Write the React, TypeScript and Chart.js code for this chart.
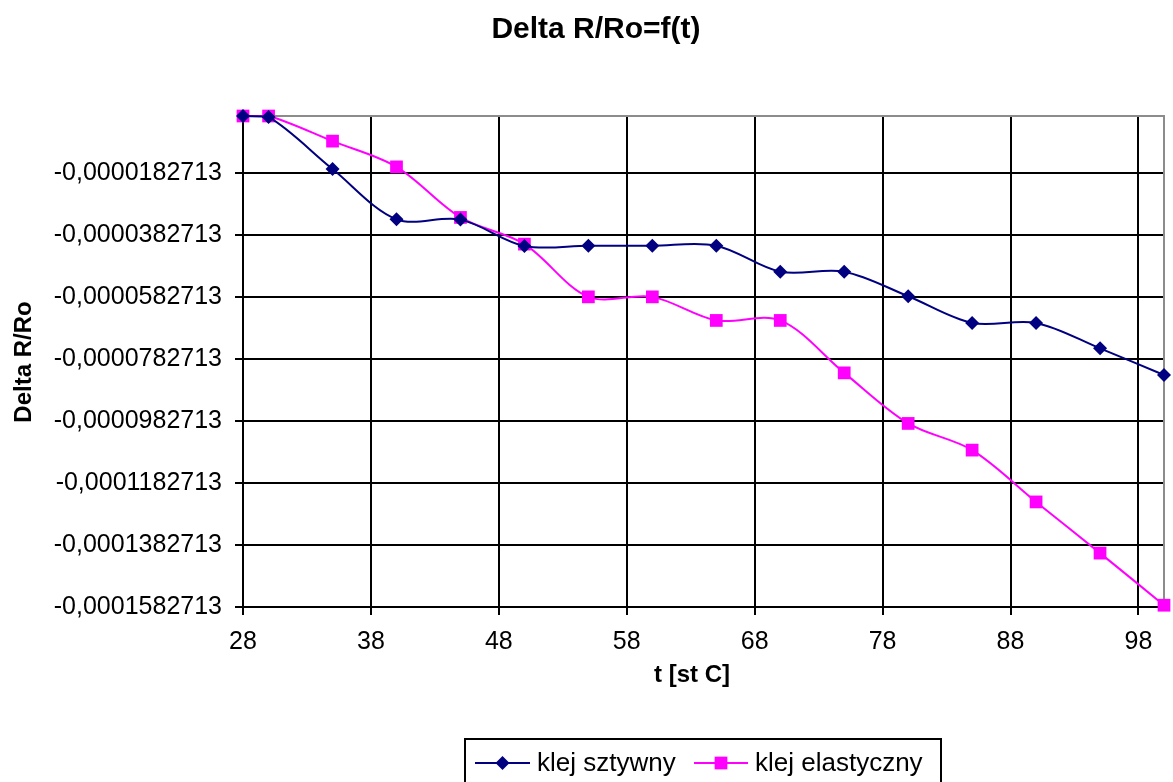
import React, { useEffect, useRef } from 'react';
import { Chart, registerables } from 'chart.js';

Chart.register(...registerables);

const temps = [28, 30, 35, 40, 45, 50, 55, 60, 65, 70, 75, 80, 85, 90, 95, 100];
const sztywny = [
  0, -0.0000003, -0.0000171, -0.0000333, -0.0000334, -0.0000419, -0.0000418, -0.0000418,
  -0.0000418, -0.0000502, -0.0000502, -0.0000581, -0.0000667, -0.0000667, -0.0000749, -0.0000835,
];
const elastyczny = [
  0, 0, -0.0000081, -0.0000164, -0.0000327, -0.0000413, -0.0000583, -0.0000583,
  -0.0000659, -0.0000659, -0.0000828, -0.0000991, -0.0001077, -0.0001244, -0.0001409, -0.0001577,
];
const xTicks = [28, 38, 48, 58, 68, 78, 88, 98];
const yTicks = [
  -0.0001582713, -0.0001382713, -0.0001182713, -0.0000982713,
  -0.0000782713, -0.0000582713, -0.0000382713, -0.0000182713,
];
const seriesNames = ['klej sztywny', 'klej elastyczny'];
const titleText = 'Delta R/Ro=f(t)';
const xTitle = 't [st C]';
const yTitle = 'Delta R/Ro';

const FONT = '"Liberation Sans", Arial, sans-serif';
const NAVY = '#000080';
const MAGENTA = '#FF00FF';

const decorPlugin = {
  id: 'decor',
  beforeDatasetsDraw(chart: any) {
    const ctx = chart.ctx;
    const a = chart.chartArea;
    ctx.save();
    ctx.strokeStyle = '#8c8c8c';
    ctx.lineWidth = 2;
    ctx.beginPath();
    ctx.moveTo(a.left, a.top);
    ctx.lineTo(a.right, a.top);
    ctx.lineTo(a.right, a.bottom);
    ctx.stroke();
    ctx.restore();
  },
  afterDraw(chart: any) {
    const ctx = chart.ctx;
    ctx.save();
    ctx.fillStyle = '#000';
    ctx.textAlign = 'center';
    ctx.textBaseline = 'alphabetic';
    ctx.font = `bold 30px ${FONT}`;
    ctx.fillText(titleText, 596, 38);
    ctx.font = `bold 24px ${FONT}`;
    ctx.fillText(xTitle, 692, 682);
    ctx.translate(31, 362);
    ctx.rotate(-Math.PI / 2);
    ctx.fillText(yTitle, 0, 0);
    ctx.restore();

    // legend
    ctx.save();
    ctx.strokeStyle = '#000';
    ctx.lineWidth = 2;
    ctx.strokeRect(465, 739, 476, 60);
    const ly = 763;
    const items = [
      { x0: 475, x1: 530, color: NAVY, style: 'rectRot', r: 7, tx: 537, label: seriesNames[0] },
      { x0: 694, x1: 748, color: MAGENTA, style: 'rect', r: 9, tx: 755, label: seriesNames[1] },
    ];
    ctx.font = `26px ${FONT}`;
    ctx.textAlign = 'left';
    ctx.textBaseline = 'middle';
    for (const it of items) {
      ctx.strokeStyle = it.color;
      ctx.lineWidth = 2;
      ctx.beginPath();
      ctx.moveTo(it.x0, ly);
      ctx.lineTo(it.x1, ly);
      ctx.stroke();
      ctx.fillStyle = it.color;
      ctx.beginPath();
      const cx = (it.x0 + it.x1) / 2;
      if (it.style === 'rect') {
        const s = it.r * Math.SQRT1_2;
        ctx.rect(cx - s, ly - s, 2 * s, 2 * s);
      } else {
        ctx.moveTo(cx, ly - it.r);
        ctx.lineTo(cx + it.r, ly);
        ctx.lineTo(cx, ly + it.r);
        ctx.lineTo(cx - it.r, ly);
        ctx.closePath();
      }
      ctx.fill();
      ctx.fillStyle = '#000';
      ctx.fillText(it.label, it.tx, ly + 1);
    }
    ctx.restore();
  },
};

export default function App() {
  const ref = useRef<HTMLCanvasElement | null>(null);
  useEffect(() => {
    if (!ref.current) return;
    const chart = new Chart(ref.current, {
      type: 'line',
      data: {
        datasets: [
          {
            label: seriesNames[0],
            data: temps.map((t, i) => ({ x: t, y: sztywny[i] })),
            borderColor: NAVY,
            backgroundColor: NAVY,
            borderWidth: 2,
            pointStyle: 'rectRot',
            pointRadius: 7,
            pointBorderWidth: 0,
            tension: 0.33,
            clip: false as any,
          },
          {
            label: seriesNames[1],
            data: temps.map((t, i) => ({ x: t, y: elastyczny[i] })),
            borderColor: MAGENTA,
            backgroundColor: MAGENTA,
            borderWidth: 2,
            pointStyle: 'rect',
            pointRadius: 9,
            pointBorderWidth: 0,
            tension: 0.33,
            clip: false as any,
          },
        ],
      },
      options: {
        animation: false,
        responsive: false,
        maintainAspectRatio: false,
        layout: { padding: { top: 116, right: 8, left: 0, bottom: 0 } },
        plugins: {
          legend: { display: false },
          title: { display: false },
          tooltip: { enabled: false },
        },
        scales: {
          x: {
            type: 'linear',
            min: 28,
            max: 100,
            afterBuildTicks: (s: any) => {
              s.ticks = xTicks.map((v) => ({ value: v }));
            },
            afterFit: (s: any) => {
              s.height = 175;
            },
            grid: { color: '#000', lineWidth: 2, tickLength: 8, drawTicks: true },
            border: { color: '#000', width: 2 },
            ticks: {
              color: '#000',
              font: { family: FONT, size: 25 },
              padding: 12,
              maxRotation: 0,
              autoSkip: false,
            },
          },
          y: {
            type: 'linear',
            min: -0.0001582713,
            max: 0,
            afterBuildTicks: (s: any) => {
              s.ticks = yTicks.map((v) => ({ value: v }));
            },
            afterFit: (s: any) => {
              s.width = 243;
            },
            grid: { color: '#000', lineWidth: 2, tickLength: 8, drawTicks: true },
            border: { color: '#000', width: 2 },
            ticks: {
              color: '#000',
              font: { family: FONT, size: 25 },
              padding: 13,
              autoSkip: false,
              callback: (v: any) => Number(v).toFixed(10).replace('.', ','),
            },
          },
        },
      },
      plugins: [decorPlugin],
    });
    return () => chart.destroy();
  }, []);
  return (
    <div style={{ position: 'fixed', left: 0, top: 0, width: 1173, height: 782, background: '#fff' }}>
      <canvas ref={ref} width={1173} height={782} style={{ display: 'block' }} />
    </div>
  );
}
